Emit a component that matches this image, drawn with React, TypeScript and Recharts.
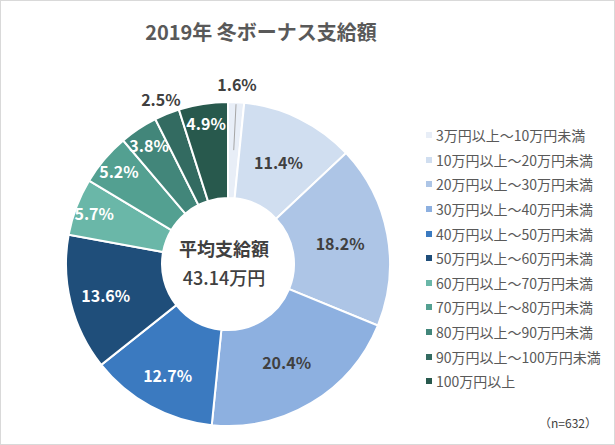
import { PieChart, Pie, Cell, Legend } from 'recharts'

const categories = [
  '3万円以上～10万円未満',
  '10万円以上～20万円未満',
  '20万円以上～30万円未満',
  '30万円以上～40万円未満',
  '40万円以上～50万円未満',
  '50万円以上～60万円未満',
  '60万円以上～70万円未満',
  '70万円以上～80万円未満',
  '80万円以上～90万円未満',
  '90万円以上～100万円未満',
  '100万円以上',
]
const shares = [1.6, 11.4, 18.2, 20.4, 12.7, 13.6, 5.7, 5.2, 3.8, 2.5, 4.9]
const colors = [
  '#e8eef7', '#d0def0', '#adc5e6', '#8db0e0', '#3b7ac0', '#1f4e7a',
  '#6ab7a8', '#53a091', '#42867a', '#336b61', '#28594d',
]
// dark text on light slices, white on dark ones
const labelColors = [
  '#404040', '#404040', '#404040', '#404040', '#ffffff', '#ffffff',
  '#ffffff', '#ffffff', '#ffffff', '#404040', '#ffffff',
]
const outsideLabels = [0, 9]

const data = categories.map((name, i) => ({ name, value: shares[i] }))

const FONT = '"Noto Sans CJK JP", "Noto Sans", sans-serif'
const RAD = Math.PI / 180

const renderLabel = (props: any) => {
  const { cx, cy, midAngle, innerRadius, outerRadius, index, value, percent } = props
  const cos = Math.cos(-midAngle * RAD)
  const sin = Math.sin(-midAngle * RAD)
  const mid = (innerRadius + outerRadius) / 2
  const outside = outsideLabels.includes(index)
  // roughly like Excel's best fit: narrow slices get their label pushed outward
  let r = mid
  if (outside) r = outerRadius + (index === 0 ? 18 : 16)
  else if (percent < 0.07) r = outerRadius - 19
  else if (percent > 0.12 && percent < 0.15) r = mid + 12
  const x = cx + r * cos
  const y = cy + r * sin
  return (
    <g key={`lbl-${index}`}>
      {index === 0 && (
        <line
          x1={cx + (outerRadius - 2) * cos}
          y1={cy + (outerRadius - 2) * sin}
          x2={cx + mid * cos}
          y2={cy + mid * sin}
          stroke="#a6a6a6"
          strokeWidth={1}
        />
      )}
      <text
        x={x}
        y={y}
        fill={labelColors[index]}
        textAnchor="middle"
        dominantBaseline="central"
        style={{ fontFamily: FONT, fontSize: 16, fontWeight: 700 }}
      >
        {`${value.toFixed(1)}%`}
      </text>
    </g>
  )
}

const renderLegend = () => (
  <div style={{ fontFamily: FONT }}>
    {categories.map((name, i) => (
      <div key={i} style={{ height: 24.6, display: 'flex', alignItems: 'center' }}>
        <span style={{ width: 6, height: 6, background: colors[i], display: 'inline-block', marginRight: 4 }} />
        <span style={{ fontSize: 14, color: '#595959', whiteSpace: 'nowrap' }}>{name}</span>
      </div>
    ))}
  </div>
)

export default function App() {
  return (
    <div style={{ position: 'absolute', left: 0, top: 0, width: 615, height: 445, background: '#fff', fontFamily: FONT }}>
      <PieChart width={615} height={445}>
        <Pie
          data={data}
          dataKey="value"
          nameKey="name"
          cx={223}
          cy={259}
          innerRadius={66}
          outerRadius={162}
          startAngle={90}
          endAngle={-270}
          stroke="#ffffff"
          strokeWidth={2}
          label={renderLabel}
          labelLine={false}
          isAnimationActive={false}
        >
          {data.map((_, i) => (
            <Cell key={i} fill={colors[i]} />
          ))}
        </Pie>
        <Legend
          layout="vertical"
          content={renderLegend}
          wrapperStyle={{ left: 426, top: 123, width: 185 }}
        />
      </PieChart>
      <div style={{ position: 'absolute', left: 0, width: 522, top: 19, textAlign: 'center', fontSize: 20, fontWeight: 700, color: '#595959', lineHeight: '26px' }}>
        2019年 冬ボーナス支給額
      </div>
      <div style={{ position: 'absolute', left: 153, width: 142, top: 235, textAlign: 'center', fontSize: 18, fontWeight: 700, color: '#404040', lineHeight: '26px' }}>
        平均支給額
      </div>
      <div style={{ position: 'absolute', left: 153, width: 142, top: 264, textAlign: 'center', fontSize: 18, fontWeight: 500, color: '#404040', lineHeight: '26px' }}>
        43.14万円
      </div>
      <div style={{ position: 'absolute', left: 530, width: 76, top: 414, textAlign: 'center', fontSize: 12, color: '#404040', lineHeight: '18px' }}>
        （n=632）
      </div>
      <div style={{ position: 'absolute', left: 0, top: 0, width: 615, height: 445, boxSizing: 'border-box', border: '1px solid #d9d9d9', pointerEvents: 'none' }} />
    </div>
  )
}
